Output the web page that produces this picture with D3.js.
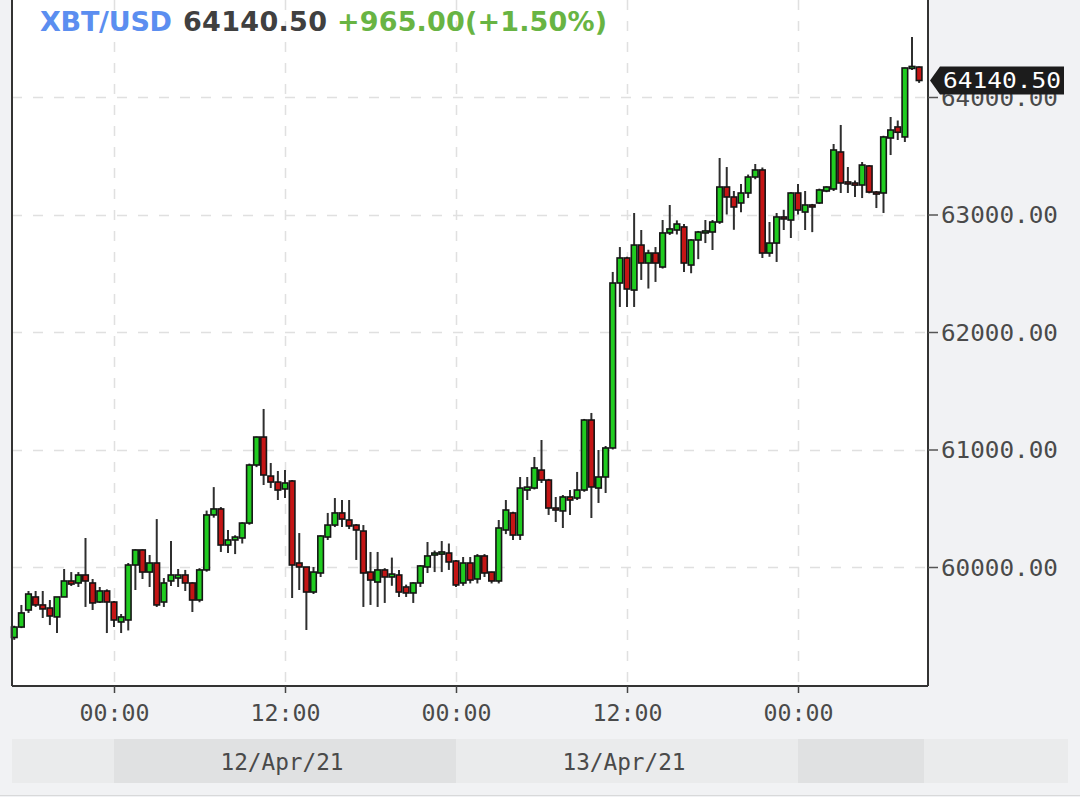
<!DOCTYPE html>
<html><head><meta charset="utf-8">
<script src="https://cdn.jsdelivr.net/npm/d3@7"></script>
<style>html,body{margin:0;padding:0;background:#f1f2f4;} svg{display:block}</style>
</head><body><svg id="c" width="1080" height="797"></svg>
<script>
// ---- data (30-minute candles, first one at 11/Apr/21 17:00 UTC) ----
const openP = [59400,59489,59634,59745,59677,59651,59575,59745,59881,59864,59932,59864,59702,59796,59702,59532,59549,
60017,60145,59957,60034,59702,59881,59906,59932,59864,59719,59975,60443,60494,60187,60230,60247,
60374,60868,61106,60774,60723,60664,60732,60034,60000,59787,59949,60255,60357,60460,60400,60357,60306,
59957,59872,59975,59915,59932,59830,59779,59864,60000,60102,60110,60119,60051,59864,60034,59898,60094,59957,
59881,60315,60460,60272,60655,60672,60825,60740,60502,60477,60596,60587,60655,61251,60672,60766,
61013,62417,62630,62357,62740,62587,62672,62553,62843,62868,62894,62570,62783,62851,62851,
62936,63234,63149,63098,63183,63319,63379,62672,62757,62979,62953,63183,63021,63081,63098,63200,
63217,63532,63277,63268,63251,63413,63191,63183,63651,63745,63660,64247,64255];
const highP = [59500,59677,59796,59796,59796,59719,59745,59983,59957,59957,60247,59898,59830,59810,59710,59600,60034,
60150,60150,60102,60408,59906,60221,59983,59975,59870,59990,60480,60680,60510,60315,60270,60380,
60880,61110,61345,60885,60817,60825,60740,60289,60000,60000,60270,60460,60587,60570,60570,60365,60357,
60128,60128,59990,60080,59975,59850,59870,60017,60213,60140,60221,60200,60060,60085,60085,60110,60110,59960,
60400,60570,60470,60766,60766,60936,61081,60750,60596,60613,60655,60809,61260,61311,60996,61030,
62511,62723,62640,63013,62868,62700,62723,62953,63081,62950,62920,62790,62860,62953,62953,
63481,63404,63200,63260,63340,63430,63400,62936,63013,63040,63190,63260,63200,63090,63220,63240,
63600,63762,63404,63290,63447,63420,63200,63670,63830,63800,64250,64510,64260];
const lowP = [59380,59480,59609,59660,59566,59506,59438,59745,59838,59830,59660,59634,59694,59438,59489,59438,59460,
59804,59898,59830,59660,59660,59838,59830,59796,59617,59700,59960,60420,60128,60119,60110,60200,
60360,60850,60698,60672,60570,60587,59736,59804,59464,59770,59915,60230,60340,60340,60323,60060,59660,
59677,59660,59694,59840,59745,59745,59694,59830,59949,59957,59957,59975,59830,59840,59860,59860,59915,59860,
59860,60280,60230,60230,60570,60660,60715,60443,60383,60332,60443,60570,60640,60417,60545,60630,
61000,62213,62213,62213,62443,62370,62426,62540,62826,62830,62511,62500,62620,62757,62698,
62920,63000,62870,63020,63140,63300,62630,62640,62596,62868,62800,63000,62868,62850,63090,63190,
63200,63183,63183,63150,63140,63180,63055,63013,63506,63634,63617,64230,64120];
const closeP = [59489,59609,59770,59677,59643,59583,59745,59881,59855,59932,59881,59694,59796,59702,59549,59575,60017,
60145,59957,60034,59677,59864,59932,59932,59864,59719,59975,60443,60494,60187,60230,60255,60374,
60868,61106,60783,60723,60655,60715,60017,60000,59787,59957,60264,60357,60460,60408,60349,60315,59949,
59889,59975,59915,59940,59787,59779,59864,60009,60094,60119,60128,60043,59847,60034,59889,60094,59949,59881,
60332,60485,60272,60672,60680,60843,60740,60502,60494,60596,60570,60655,61251,60681,60766,61013,
62417,62630,62366,62740,62587,62672,62587,62843,62877,62919,62587,62783,62851,62860,62936,
63234,63149,63064,63183,63319,63379,62672,62757,62979,62970,63183,63038,63081,63072,63209,63234,
63549,63268,63260,63250,63421,63191,63183,63660,63719,63700,64247,64260,64140.5];
const startTime = Date.UTC(2021, 3, 11, 17, 0);
const candleMinutes = 30;
const priceTicks = [60000, 61000, 62000, 63000, 64000];
const dateLabels = ["12/Apr/21", "13/Apr/21"];
const symbolText = "XBT/USD";
const lastText = "64140.50";
const changeText = "+965.00(+1.50%)";
const lastPrice = 64140.5;

// ---- layout ----
const L = 12, R = 928, T = 0, B = 686;
const svg = d3.select("#c");
const times = openP.map((_, i) => new Date(startTime + i * candleMinutes * 60000));
const candles = times.map((t, i) => ({t, o: openP[i], h: highP[i], l: lowP[i], c: closeP[i]}));

const x = d3.scaleUtc().domain([new Date(Date.UTC(2021,3,12)), new Date(Date.UTC(2021,3,14))]).range([114, 798]);
const y = d3.scaleLinear().domain([60000, 64000]).range([567, 97]);

// plot background
svg.append("rect").attr("x", L).attr("y", T).attr("width", R - L).attr("height", B - T).attr("fill", "#ffffff");

// grid
const xTicks = d3.utcHour.every(12).range(x.invert(L), x.invert(R));
const grid = svg.append("g").attr("stroke", "#e0e0e0").attr("stroke-width", 1.5).attr("stroke-dasharray", "10,11");
grid.selectAll(".h").data(priceTicks).join("line")
  .attr("x1", L).attr("x2", R).attr("y1", d => Math.round(y(d)) + 0.5).attr("y2", d => Math.round(y(d)) + 0.5);
grid.selectAll(".v").data(xTicks).join("line")
  .attr("y1", T).attr("y2", B).attr("x1", d => Math.round(x(d)) + 0.5).attr("x2", d => Math.round(x(d)) + 0.5);

// candles
const cg = svg.append("g");
const bw = 5.6;
cg.selectAll("line.w").data(candles).join("line")
  .attr("x1", d => x(d.t)).attr("x2", d => x(d.t))
  .attr("y1", d => y(d.h)).attr("y2", d => y(d.l))
  .attr("stroke", "#2f2f2f").attr("stroke-width", 2);
cg.selectAll("rect.b").data(candles).join("rect")
  .attr("x", d => x(d.t) - bw / 2)
  .attr("y", d => y(Math.max(d.o, d.c)))
  .attr("width", bw)
  .attr("height", d => Math.max(2, Math.abs(y(d.o) - y(d.c))))
  .attr("fill", d => d.c >= d.o ? "#20cc20" : "#c41515")
  .attr("stroke", "#151515").attr("stroke-width", 1.6);

// header
const hdr = svg.append("g").attr("font-family", "DejaVu Sans").attr("font-weight", "bold").attr("font-size", 27);
hdr.append("text").attr("x", 40).attr("y", 31).attr("fill", "#5b8ef0").attr("textLength", 132).text(symbolText);
hdr.append("text").attr("x", 183).attr("y", 31).attr("fill", "#404040").attr("textLength", 144).text(lastText);
hdr.append("text").attr("x", 337).attr("y", 31).attr("fill", "#68b443").attr("textLength", 270).text(changeText);

// frame lines
svg.append("line").attr("x1", L).attr("x2", L).attr("y1", T).attr("y2", B).attr("stroke", "#333").attr("stroke-width", 2);

// right axis
const yAxis = d3.axisRight(y).tickValues(priceTicks).tickFormat(d3.format(".2f")).tickSize(10).tickPadding(4);
const ya = svg.append("g").attr("transform", `translate(${R},0)`).call(yAxis);
ya.select(".domain").attr("d", `M0,${T}V${B}`).attr("stroke", "#333").attr("stroke-width", 2);
ya.selectAll(".tick line").attr("stroke", "#555").attr("stroke-width", 1.5);
ya.selectAll(".tick text").attr("font-family", "DejaVu Sans Mono").attr("font-size", 23)
  .attr("fill", "#4a4a4a").attr("x", 13).attr("dy", "0.36em").attr("textLength", 117).attr("lengthAdjust", "spacingAndGlyphs");

// bottom axis
const xAxis = d3.axisBottom(x).tickValues(xTicks).tickFormat(d3.utcFormat("%H:%M")).tickSize(7).tickPadding(4);
const xa = svg.append("g").attr("transform", `translate(0,${B})`).call(xAxis);
xa.select(".domain").attr("d", `M${L},0H${R}`).attr("stroke", "#333").attr("stroke-width", 2);
xa.selectAll(".tick line").attr("stroke", "#444").attr("stroke-width", 1.5);
xa.selectAll(".tick text").attr("font-family", "DejaVu Sans Mono").attr("font-size", 23)
  .attr("fill", "#4a4a4a").attr("y", 27).attr("dy", "0.36em").attr("textLength", 70).attr("lengthAdjust", "spacingAndGlyphs");

// date band
const dayEdges = d3.utcDay.range(x.invert(L), x.invert(R)).map(d => x(d));
const bandEdges = [L, ...dayEdges, 924, 1068];
const band = svg.append("g");
for (let i = 0; i < bandEdges.length - 1; i++) {
  band.append("rect").attr("x", bandEdges[i]).attr("y", 739).attr("width", bandEdges[i + 1] - bandEdges[i]).attr("height", 44)
    .attr("fill", i % 2 === 0 ? "#eaebec" : "#e0e1e2");
}
band.selectAll("text").data(dateLabels).join("text")
  .attr("x", (d, i) => (dayEdges[i] + dayEdges[i + 1]) / 2 - 3)
  .attr("y", 762).attr("dy", "0.36em").attr("text-anchor", "middle")
  .attr("font-family", "DejaVu Sans Mono").attr("font-size", 23).attr("fill", "#4a4a4a")
  .attr("textLength", 123).attr("lengthAdjust", "spacingAndGlyphs").text(d => d);
svg.append("line").attr("x1", 0).attr("x2", 1080).attr("y1", 795.5).attr("y2", 795.5).attr("stroke", "#d8d9da");

// last price marker (drawn over the 64000.00 label, as in the original)
const ly = y(lastPrice);
svg.append("path")
  .attr("d", `M${R + 2},${ly} L${R + 12},${ly - 14} H1064 V${ly + 14} H${R + 12} Z`)
  .attr("fill", "#1c1c1c");
svg.append("text").attr("x", 943).attr("y", ly).attr("dy", "0.36em")
  .attr("font-family", "DejaVu Sans Mono").attr("font-size", 22).attr("fill", "#ffffff")
  .attr("textLength", 118).attr("lengthAdjust", "spacingAndGlyphs").text(d3.format(".2f")(lastPrice));
</script></body></html>
